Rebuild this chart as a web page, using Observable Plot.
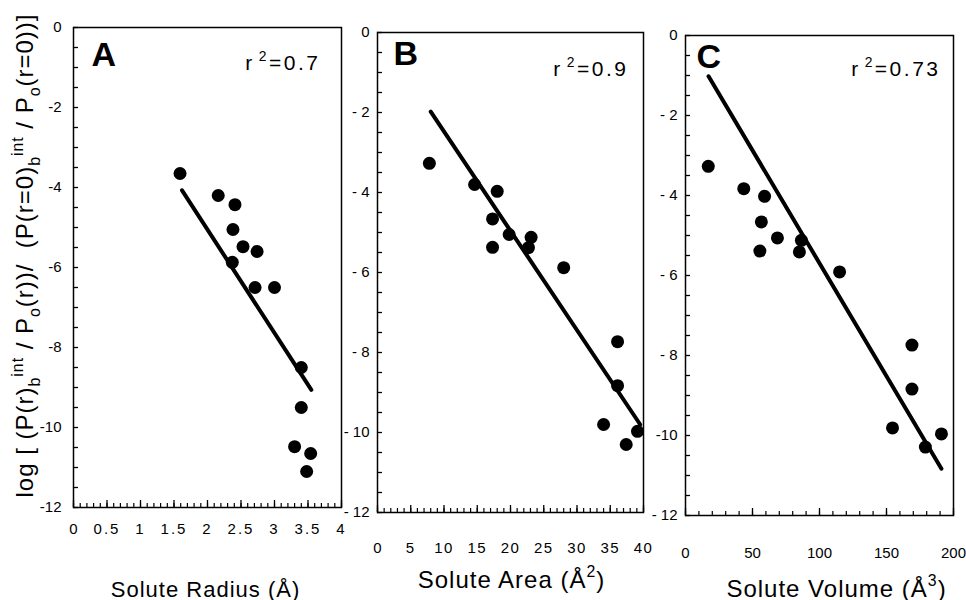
<!DOCTYPE html>
<html><head><meta charset="utf-8">
<script src="https://cdn.jsdelivr.net/npm/d3@7"></script>
<script src="https://cdn.jsdelivr.net/npm/@observablehq/plot@0.6"></script>
<style>
html,body{margin:0;padding:0;background:#fff;}
#chart{position:relative;width:966px;height:600px;overflow:hidden;background:#fff;}
#chart svg{position:absolute;top:0;overflow:visible;background:transparent !important;}
</style></head><body><div id="chart"></div>
<script>
// ---------- data ----------
const radiusA = [1.59, 2.16, 2.41, 2.38, 2.53, 2.74, 2.37, 2.71, 3.00, 3.40, 3.40, 3.30, 3.54, 3.48];
const logA    = [-3.65, -4.20, -4.43, -5.05, -5.48, -5.60, -5.87, -6.50, -6.50, -8.50, -9.50, -10.48, -10.65, -11.10];
const fitRadiusA = [1.62, 3.55];
const fitLogA    = [-4.07, -9.06];

const areaB = [7.8, 14.6, 18.0, 17.3, 19.8, 23.1, 22.7, 17.3, 28.0, 36.1, 36.1, 34.0, 37.4, 39.1];
const logB  = [-3.27, -3.80, -3.97, -4.66, -5.05, -5.12, -5.38, -5.37, -5.88, -7.73, -8.83, -9.80, -10.30, -9.97];
const fitAreaB = [8.0, 39.5];
const fitLogB  = [-1.98, -9.80];

const volumeC = [17, 43.5, 59, 56.6, 68.6, 86.5, 85, 55.5, 115, 169, 169, 154.5, 179, 191];
const logC    = [-3.27, -3.83, -4.02, -4.66, -5.06, -5.12, -5.41, -5.39, -5.91, -7.74, -8.84, -9.81, -10.29, -9.96];
const fitVolumeC = [17.2, 191];
const fitLogC    = [-1.02, -10.83];

const yTicks = [0, -2, -4, -6, -8, -10, -12];
const yTickLabelsA = ["0", "-2", "-4", "-6", "-8", "-10", "-12"];
const yTickLabelsB = ["0", "- 2", "- 4", "- 6", "- 8", "- 10", "- 12"];
const yTickLabelsC = ["0", "- 2", "- 4", "- 6", "- 8", "-10", "- 12"];
const xTicksA = [0, 0.5, 1, 1.5, 2, 2.5, 3, 3.5, 4];
const xTickLabelsA = ["0", "0.5", "1", "1.5", "2", "2.5", "3", "3.5", "4"];
const xTicksB = [0, 5, 10, 15, 20, 25, 30, 35, 40];
const xTickLabelsB = ["0", "5", "10", "15", "20", "25", "30", "35", "40"];
const xTicksC = [0, 50, 100, 150, 200];
const xTickLabelsC = ["0", "50", "100", "150", "200"];

const panelLetters = ["A", "B", "C"];
const r2Values = ["0.7", "0.9", "0.73"];
const xTitleSegs = [
  [{t: "Solute Radius (Å)"}],
  [{t: "Solute Area (Å"}, {t: "2", sup: true}, {t: ")"}],
  [{t: "Solute Volume (Å"}, {t: "3", sup: true}, {t: ")"}]
];
const yTitleSegs = [
  {t: "log [ (P(r)"}, {t: "b", sub: true}, {t: "int", sup: true}, {t: " / P"}, {t: "o", sub: true},
  {t: "(r))/  (P(r=0)"}, {t: "b", sub: true}, {t: "int", sup: true}, {t: " / P"}, {t: "o", sub: true},
  {t: "(r=0))]"}
];

// ---------- helpers ----------
const FONT = "'Liberation Sans', Arial, Helvetica, sans-serif";
const joinSegs = segs => segs.map(s => s.t).join("");

function richify(svg, defs, xLabelSet, xLs) {
  d3.select(svg).selectAll("text").each(function () {
    const key = this.textContent;
    const def = defs.find(d => joinSegs(d.segs) === key);
    if (!def) {
      if (xLabelSet.has(key)) this.style.letterSpacing = xLs + "px";
      return;
    }
    const t = d3.select(this);
    t.text("");
    this.style.letterSpacing = def.ls + "px";
    let shift = 0;
    for (const s of def.segs) {
      const target = s.sup ? -0.42 * def.size : s.sub ? 0.3 * def.size : 0;
      const sp = t.append("tspan").text(s.t);
      if (target - shift !== 0) sp.attr("dy", target - shift);
      if (s.sup || s.sub) sp.attr("font-size", 0.66 * def.size);
      if (s.sup && def.supDx) sp.attr("dx", def.supDx);
      shift = target;
    }
  });
}

function panel(cfg) {
  const H = 600;
  const fw = cfg.width - cfg.ml - cfg.mr, fh = H - cfg.mt - cfg.mb;
  const pts = cfg.xs.map((x, i) => ({x, y: cfg.ys[i]}));
  const fit = cfg.fitX.map((x, i) => ({x, y: cfg.fitY[i]}));
  const yLab = new Map(yTicks.map((v, i) => [v, cfg.yLabels[i]]));
  const xLab = new Map(cfg.xTicks.map((v, i) => [v, cfg.xLabels[i]]));
  const r2Segs = [{t: "r"}, {t: "2", sup: true}, {t: "=" + cfg.r2}];
  const defs = [
    {segs: r2Segs, size: 21, ls: 2.5, supDx: 4},
    {segs: cfg.titleSegs, size: cfg.titleSize, ls: 1}
  ];
  const marks = [
    Plot.frame({stroke: "#000", strokeWidth: 1.5}),
    Plot.tickY(d3.range(0, -12.01, -0.5), {y: d => d, insetRight: fw - 5, stroke: "#000", strokeWidth: 1.3}),
    Plot.tickX(cfg.xMinor, {x: d => d, insetTop: fh - 4, stroke: "#000", strokeWidth: 1.2}),
    Plot.tickX(cfg.xTicks, {x: d => d, insetTop: fh - 7, stroke: "#000", strokeWidth: 1.3}),
    Plot.line(fit, {x: "x", y: "y", stroke: "#000", strokeWidth: 4}),
    Plot.dot(pts, {x: "x", y: "y", r: 6.5, fill: "#000"}),
    Plot.text([cfg.letter], {frameAnchor: "top-left", text: d => d, textAnchor: "start", lineAnchor: "bottom",
      dx: cfg.letterDx, dy: cfg.letterDy, fontSize: 34, fontWeight: "bold"}),
    Plot.text([joinSegs(r2Segs)], {frameAnchor: "top-right", text: d => d, textAnchor: "end", lineAnchor: "bottom",
      dx: cfg.r2Dx, dy: cfg.r2Dy, fontSize: 21}),
    Plot.text([joinSegs(cfg.titleSegs)], {frameAnchor: "bottom", text: d => d, textAnchor: "middle", lineAnchor: "bottom",
      dx: cfg.titleDx, dy: cfg.titleDy, fontSize: cfg.titleSize})
  ];
  if (cfg.yTitle) {
    defs.push({segs: yTitleSegs, size: 24, ls: 1});
    marks.push(Plot.text([joinSegs(yTitleSegs)], {frameAnchor: "left", text: d => d, rotate: -90,
      textAnchor: "middle", lineAnchor: "middle", dx: -48, dy: -12, fontSize: 24}));
  }
  const svg = Plot.plot({
    width: cfg.width, height: H,
    marginLeft: cfg.ml, marginRight: cfg.mr, marginTop: cfg.mt, marginBottom: cfg.mb,
    style: {fontFamily: FONT, fontSize: "15px", color: "#000", background: "transparent", overflow: "visible"},
    x: {domain: cfg.xDomain, ticks: cfg.xTicks, tickFormat: d => xLab.get(d), tickSize: 0, tickPadding: cfg.xPad, label: null},
    y: {domain: [-12, 0], ticks: yTicks, tickFormat: d => yLab.get(d), tickSize: 0, tickPadding: cfg.yPad, label: null},
    marks
  });
  richify(svg, defs, new Set(cfg.xLabels.filter(s => s !== "0")), cfg.xLs);
  svg.style.position = "absolute";
  svg.style.left = cfg.left + "px";
  svg.style.top = "0px";
  svg.style.maxWidth = "none";
  document.getElementById("chart").appendChild(svg);
}

panel({left: 0, width: 350, ml: 73, mr: 9, mt: 27, mb: 93,
  xs: radiusA, ys: logA, fitX: fitRadiusA, fitY: fitLogA, xDomain: [0, 4],
  xTicks: xTicksA, xLabels: xTickLabelsA, xMinor: d3.range(0, 4.001, 0.1), yLabels: yTickLabelsA, xLs: 2,
  xPad: 16, yPad: 12, letter: panelLetters[0], letterDx: 18, letterDy: 38, r2: r2Values[0], r2Dx: -21, r2Dy: 42,
  titleSegs: xTitleSegs[0], titleSize: 22, titleDx: -2, titleDy: 89, yTitle: true});
panel({left: 325, width: 330, ml: 52, mr: 12, mt: 32, mb: 88,
  xs: areaB, ys: logB, fitX: fitAreaB, fitY: fitLogB, xDomain: [0, 40],
  xTicks: xTicksB, xLabels: xTickLabelsB, xMinor: d3.range(0, 40.01, 1), yLabels: yTickLabelsB, xLs: 1.5,
  xPad: 30, yPad: 8, letter: panelLetters[1], letterDx: 16, letterDy: 32, r2: r2Values[1], r2Dx: -15, r2Dy: 43,
  titleSegs: xTitleSegs[1], titleSize: 24, titleDx: 1, titleDy: 75});
panel({left: 635, width: 331, ml: 50, mr: 13, mt: 35, mb: 85,
  xs: volumeC, ys: logC, fitX: fitVolumeC, fitY: fitLogC, xDomain: [0, 200],
  xTicks: xTicksC, xLabels: xTickLabelsC, xMinor: d3.range(0, 200.01, 10), yLabels: yTickLabelsC, xLs: 0,
  xPad: 32, yPad: 8, letter: panelLetters[2], letterDx: 11, letterDy: 32, r2: r2Values[2], r2Dx: -13, r2Dy: 40,
  titleSegs: xTitleSegs[2], titleSize: 24, titleDx: 17, titleDy: 81});
</script></body></html>
